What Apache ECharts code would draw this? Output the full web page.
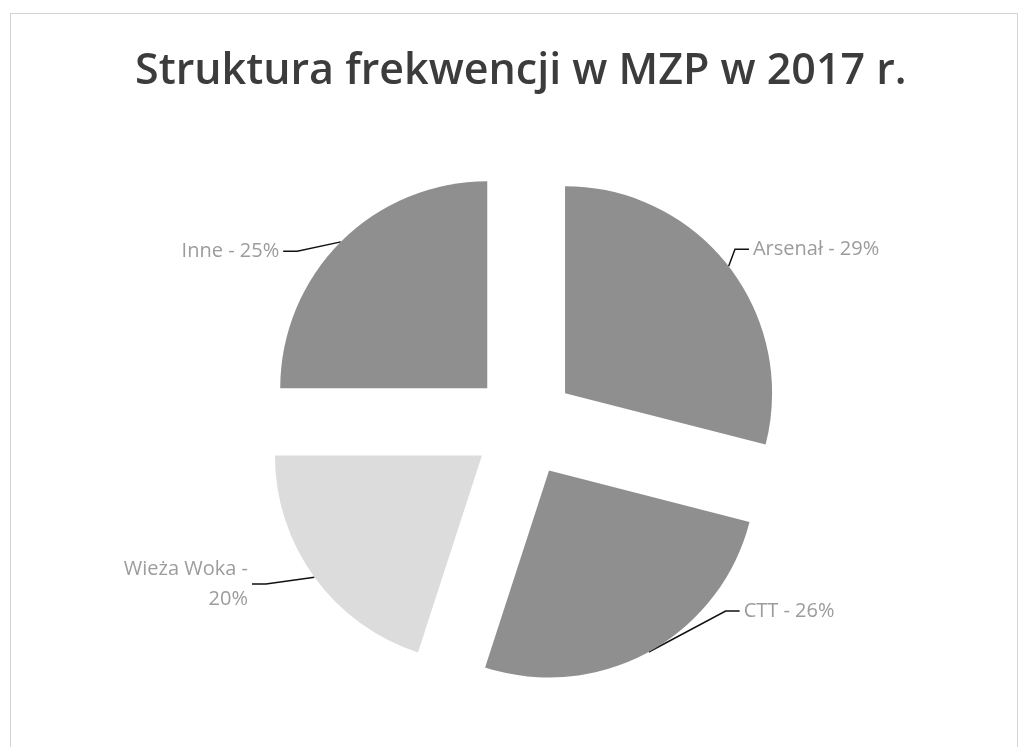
<!DOCTYPE html>
<html>
<head>
<meta charset="utf-8">
<script src="https://cdn.jsdelivr.net/npm/echarts@6/dist/echarts.min.js"></script>
<style>
  html, body { margin: 0; padding: 0; background: #fff; }
  #frame {
    position: absolute; left: 10px; top: 13px; width: 1008px; height: 740px;
    border: 1px solid #d4d4d4; border-bottom: none; box-sizing: border-box;
  }
  #pieChart { position: absolute; left: 0; top: 0; width: 1026px; height: 747px; }
</style>
</head>
<body>
<div id="frame"></div>
<div id="pieChart"></div>
<script type="text/javascript">
// dane
var categories = ['Arsenał', 'CTT', 'Wieża Woka', 'Inne']
var shares = [29, 26, 20, 25]
var sliceColors = ['#8f8f8f', '#8f8f8f', '#dcdcdc', '#8f8f8f']
// przesunięcie etykiet względem domyślnego położenia
var labelShift = [[-18, -12], [55, -48], [-24, 2], [-20, 15]]

var chart = echarts.init(document.getElementById('pieChart'))

var pieData = categories.map(function (name, i) {
    var item = {
        name: name,
        value: shares[i],
        selected: true,
        itemStyle: { color: sliceColors[i] }
    }
    if (name === 'Wieża Woka') {
        item.label = { formatter: '{b} -\n{c}%', align: 'center' }
    }
    return item
})

var option = {
    animation: false,
    title: {
        text: 'Struktura frekwencji w MZP w 2017 r.',
        left: 130,
        top: 45,
        textStyle: {
            fontFamily: 'Open Sans',
            fontWeight: 600,
            fontSize: 43,
            color: '#3c3c3c'
        }
    },
    series: [{
        type: 'pie',
        center: [524, 425],
        radius: 207,
        startAngle: 90,
        clockwise: true,
        selectedMode: 'multiple',
        selectedOffset: 52,
        emphasis: { disabled: true },
        label: {
            show: true,
            position: 'outside',
            formatter: '{b} - {c}%',
            fontFamily: 'Open Sans',
            fontSize: 20,
            color: '#9c9c9c',
            lineHeight: 30,
            distanceToLabelLine: 4
        },
        labelLine: {
            show: true,
            length: 8,
            length2: 32,
            lineStyle: { color: '#111', width: 1.5 }
        },
        labelLayout: function (params) {
            var s = labelShift[params.dataIndex]
            var out = { dx: s[0], dy: s[1] }
            var pts = params.labelLinePoints
            if (pts && pts.length === 3) {
                var end = [pts[2][0] + s[0], pts[2][1] + s[1]]
                var dir = pts[2][0] >= pts[1][0] ? 1 : -1
                out.labelLinePoints = [pts[0], [end[0] - dir * 14, end[1]], end]
            }
            return out
        },
        data: pieData
    }]
}

chart.setOption(option)
</script>
</body>
</html>
